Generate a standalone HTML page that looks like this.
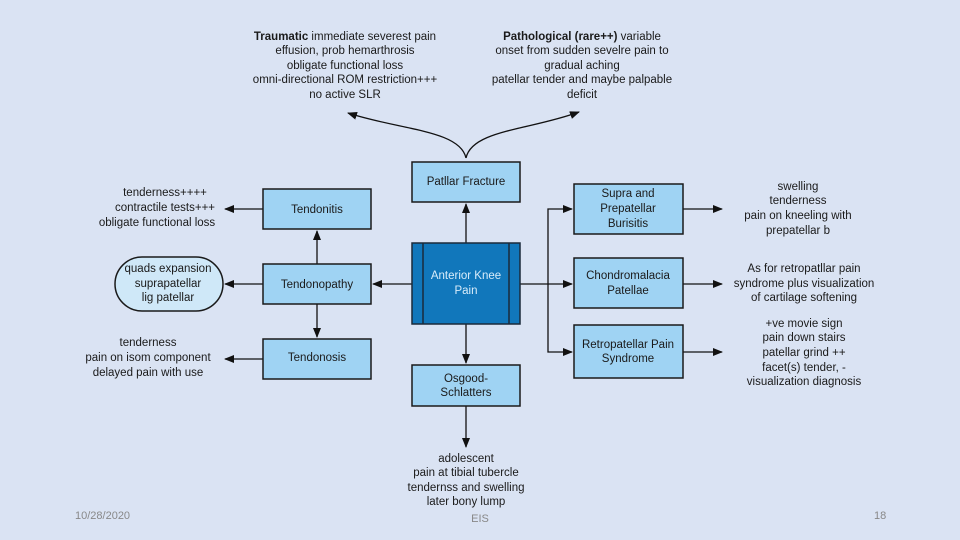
<!DOCTYPE html>
<html><head><meta charset="utf-8"><style>
html,body{margin:0;padding:0;background:#dae3f3;}
svg{display:block;font-family:"Liberation Sans",sans-serif;}
</style></head><body>
<svg width="960" height="540" viewBox="0 0 960 540" xmlns="http://www.w3.org/2000/svg">
<defs>
<marker id="a" markerWidth="10" markerHeight="8" refX="9" refY="4" orient="auto" markerUnits="userSpaceOnUse"><path d="M0,0 L10,4 L0,8 Z" fill="#111"/></marker>
</defs>
<rect width="960" height="540" fill="#dae3f3"/>
<g fill="#1a1a1a" font-size="11.5" text-anchor="middle">
<text x="345" y="40"><tspan font-weight="bold">Traumatic</tspan> immediate severest pain</text>
<text x="345" y="54">effusion, prob hemarthrosis</text>
<text x="345" y="69">obligate functional loss</text>
<text x="345" y="83">omni-directional ROM restriction+++</text>
<text x="345" y="98">no active SLR</text>
<text x="582" y="40"><tspan font-weight="bold">Pathological (rare++)</tspan> variable</text>
<text x="582" y="54">onset from sudden sevelre pain to</text>
<text x="582" y="69">gradual aching</text>
<text x="582" y="83">patellar tender and maybe palpable</text>
<text x="582" y="98">deficit</text>
<text x="165" y="196">tenderness++++</text>
<text x="165" y="211">contractile tests+++</text>
<text x="157" y="226">obligate functional loss</text>
<text x="148" y="346">tenderness</text>
<text x="148" y="361">pain on isom component</text>
<text x="148" y="376">delayed pain with use</text>
<text x="798" y="190">swelling</text>
<text x="798" y="204">tenderness</text>
<text x="798" y="219">pain on kneeling with</text>
<text x="798" y="234">prepatellar b</text>
<text x="804" y="272">As for retropatllar pain</text>
<text x="804" y="287">syndrome plus visualization</text>
<text x="804" y="301">of cartilage softening</text>
<text x="804" y="327">+ve movie sign</text>
<text x="804" y="341">pain down stairs</text>
<text x="804" y="356">patellar grind ++</text>
<text x="804" y="371">facet(s) tender, -</text>
<text x="804" y="385">visualization diagnosis</text>
<text x="466" y="462">adolescent</text>
<text x="466" y="476">pain at tibial tubercle</text>
<text x="466" y="491">tendernss and swelling</text>
<text x="466" y="505">later bony lump</text>
</g>
<g fill="#888" font-size="11">
<text x="75" y="519">10/28/2020</text>
<text x="480" y="522" text-anchor="middle">EIS</text>
<text x="874" y="519">18</text>
</g>
<g stroke="#111" stroke-width="1.3" fill="none" marker-end="url(#a)">
<path d="M466,158 C460,130 400,130 348,113"/>
<path d="M466,158 C472,130 530,130 579,112"/>
<path d="M466,243 L466,204"/>
<path d="M466,324 L466,363"/>
<path d="M466,406 L466,447"/>
<path d="M412,284 L373,284"/>
<path d="M317,264 L317,231"/>
<path d="M317,304 L317,337"/>
<path d="M263,284 L225,284"/>
<path d="M263,209 L225,209"/>
<path d="M263,359 L225,359"/>
<path d="M520,284 L548,284 L548,209 L572,209"/>
<path d="M548,284 L572,284"/>
<path d="M548,284 L548,352 L572,352"/>
<path d="M683,209 L722,209"/>
<path d="M683,284 L722,284"/>
<path d="M683,352 L722,352"/>
</g>
<g stroke="#1a1a1a" stroke-width="1.5" fill="#9fd3f3">
<rect x="412" y="162" width="108" height="40"/>
<rect x="412" y="365" width="108" height="41"/>
<rect x="263" y="189" width="108" height="40"/>
<rect x="263" y="264" width="108" height="40"/>
<rect x="263" y="339" width="108" height="40"/>
<rect x="574" y="184" width="109" height="50"/>
<rect x="574" y="258" width="109" height="50"/>
<rect x="574" y="325" width="109" height="53"/>
<rect x="115" y="257" width="108" height="54" rx="27" fill="#cfe8f8"/>
</g>
<rect x="412" y="243" width="108" height="81" fill="#1177bb" stroke="#1a2a3a" stroke-width="1.5"/>
<line x1="423" y1="243" x2="423" y2="324" stroke="#1a2a3a" stroke-width="1.5"/>
<line x1="509" y1="243" x2="509" y2="324" stroke="#1a2a3a" stroke-width="1.5"/>
<g fill="#1a1a1a" font-size="11.5" text-anchor="middle">
<text x="466" y="185">Patllar Fracture</text>
<text x="466" y="382">Osgood-</text>
<text x="466" y="396">Schlatters</text>
<text x="317" y="213">Tendonitis</text>
<text x="317" y="288">Tendonopathy</text>
<text x="317" y="361">Tendonosis</text>
<text x="168" y="272">quads expansion</text>
<text x="168" y="287">suprapatellar</text>
<text x="168" y="301">lig patellar</text>
<text x="628" y="197">Supra and</text>
<text x="628" y="212">Prepatellar</text>
<text x="628" y="227">Burisitis</text>
<text x="628" y="279">Chondromalacia</text>
<text x="628" y="294">Patellae</text>
<text x="628" y="348">Retropatellar Pain</text>
<text x="628" y="362">Syndrome</text>
<text x="466" y="279" fill="#d8ecfa">Anterior Knee</text>
<text x="466" y="294" fill="#d8ecfa">Pain</text>
</g>
</svg>
</body></html>
